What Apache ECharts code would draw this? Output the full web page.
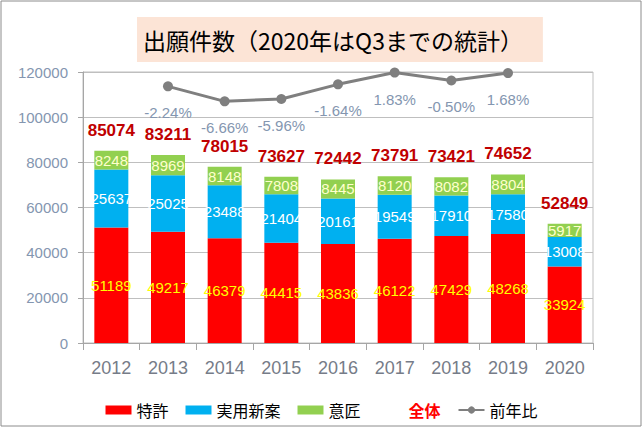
<!DOCTYPE html>
<html>
<head>
<meta charset="utf-8">
<script src="https://cdn.jsdelivr.net/npm/echarts@6/dist/echarts.min.js"></script>
<style>
  html, body { margin: 0; padding: 0; background: #fff; }
  #chart { width: 643px; height: 428px; }
</style>
</head>
<body>
<div id="chart"></div>
<script>
var years = ['2012', '2013', '2014', '2015', '2016', '2017', '2018', '2019', '2020'];
var patent = [51189, 49217, 46379, 44415, 43836, 46122, 47429, 48268, 33924];
var utility = [25637, 25025, 23488, 21404, 20161, 19549, 17910, 17580, 13008];
var design = [8248, 8969, 8148, 7808, 8445, 8120, 8082, 8804, 5917];
var totals = [85074, 83211, 78015, 73627, 72442, 73791, 73421, 74652, 52849];
var yoy = [null, -2.24, -6.66, -5.96, -1.64, 1.83, -0.50, 1.68, null];

var axisGray = '#8496b0';
var gridGray = '#bfbfbf';
var cjk = '"Noto Sans CJK JP", sans-serif';
var num = '"Liberation Sans", Arial, sans-serif';
var narrow = '"Liberation Sans Narrow", "Liberation Sans", sans-serif';

var chart = echarts.init(document.getElementById('chart'), null, { renderer: 'svg' });

function segLabel(color) {
  return { show: true, position: 'inside', color: color, fontSize: 15, fontFamily: narrow };
}

chart.setOption({
  animation: false,
  backgroundColor: '#fff',
  title: {
    text: '出願件数（2020年はQ3までの統計）',
    left: 137,
    top: 17,
    backgroundColor: '#fce4d6',
    padding: [10, 20, 10, 6],
    textStyle: { color: '#000', fontSize: 23, fontWeight: 'normal', fontFamily: cjk, lineHeight: 25 }
  },
  graphic: [{
    type: 'rect',
    shape: { x: 1, y: 1, width: 640, height: 425 },
    style: { fill: 'none', stroke: '#8c8c8c', lineWidth: 1 },
    silent: true
  }],
  legend: {
    left: 'center',
    top: 397,
    itemWidth: 26,
    itemHeight: 9,
    itemGap: 17,
    textStyle: { color: '#000', fontSize: 16, fontFamily: cjk },
    data: [
      { name: '特許', icon: 'rect' },
      { name: '実用新案', icon: 'rect' },
      { name: '意匠', icon: 'rect' },
      { name: '全体', icon: 'none', textStyle: { color: '#ff0000', fontWeight: 'bold' } },
      { name: '前年比' }
    ]
  },
  grid: {
    left: 83, right: 50, top: 72, bottom: 85,
    show: true, borderColor: gridGray, borderWidth: 1
  },
  xAxis: {
    type: 'category',
    data: years,
    axisLine: { lineStyle: { color: '#a6a6a6' } },
    axisTick: { show: true, length: 7, lineStyle: { color: '#a6a6a6' } },
    axisLabel: { color: '#767c88', fontSize: 18, fontFamily: num, margin: 16 }
  },
  yAxis: [{
    type: 'value',
    min: 0,
    max: 120000,
    interval: 20000,
    axisLine: { show: true, lineStyle: { color: '#a6a6a6' } },
    axisTick: { show: true, length: 5, lineStyle: { color: '#a6a6a6' } },
    axisLabel: {
      color: axisGray, fontSize: 15, fontFamily: num, margin: 15,
      formatter: function (v) { return String(v); }
    },
    splitLine: { lineStyle: { color: gridGray } }
  }, {
    type: 'value',
    min: -78,
    max: 2,
    show: false,
    splitLine: { show: false }
  }],
  series: [
    {
      name: '特許', type: 'bar', stack: 'apps', barWidth: '60%', barGap: '-100%',
      itemStyle: { color: '#ff0000' },
      label: segLabel('#ffff00'),
      data: patent
    },
    {
      name: '実用新案', type: 'bar', stack: 'apps', barGap: '-100%',
      itemStyle: { color: '#00b0f0' },
      label: segLabel('#ffffff'),
      data: utility
    },
    {
      name: '意匠', type: 'bar', stack: 'apps', barGap: '-100%',
      itemStyle: { color: '#92d050' },
      label: segLabel('#ffffcc'),
      data: design
    },
    {
      name: '全体', type: 'bar', barWidth: '60%', barGap: '-100%',
      itemStyle: { color: 'rgba(0,0,0,0)' },
      label: {
        show: true, position: 'top', distance: 12,
        color: '#c00000', fontSize: 17, fontWeight: 'bold', fontFamily: num
      },
      z: 1,
      data: totals
    },
    {
      name: '前年比', type: 'line', yAxisIndex: 1,
      symbol: 'circle', symbolSize: 10,
      itemStyle: { color: '#7f7f7f' },
      lineStyle: { color: '#7f7f7f', width: 3 },
      label: {
        show: true, position: 'bottom', distance: 14,
        color: axisGray, fontSize: 15, fontFamily: num,
        formatter: function (p) { return p.value.toFixed(2) + '%'; }
      },
      data: yoy
    }
  ]
});
</script>
</body>
</html>
